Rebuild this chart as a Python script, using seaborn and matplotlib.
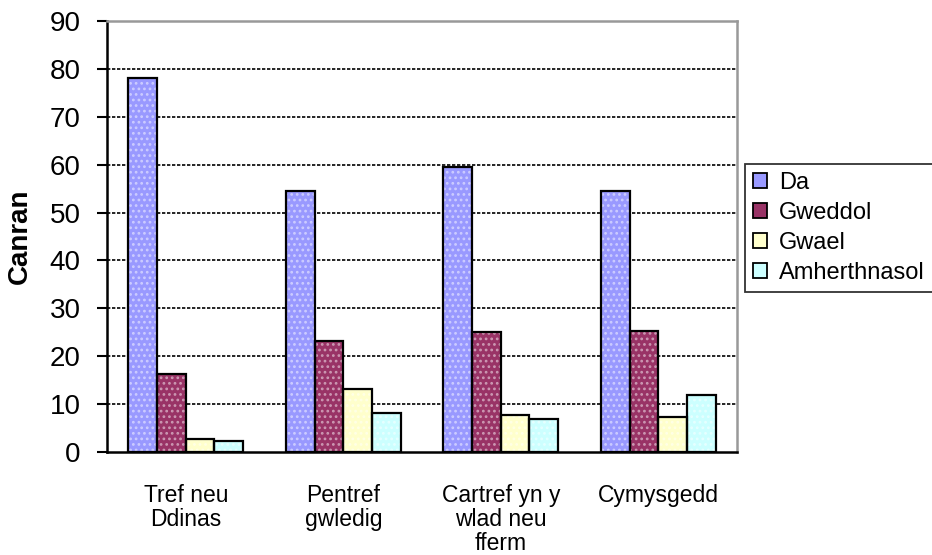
import matplotlib
matplotlib.use("Agg")
import matplotlib.pyplot as plt
import matplotlib.colors as mcolors
from matplotlib.patches import Rectangle
import seaborn as sns
import pandas as pd
import numpy as np

categories = ["Tref neu\nDdinas", "Pentref\ngwledig", "Cartref yn y\nwlad neu\nfferm", "Cymysgedd"]
series = ["Da", "Gweddol", "Gwael", "Amherthnasol"]
da = [78.0, 54.5, 59.5, 54.5]
gweddol = [16.2, 23.2, 25.0, 25.3]
gwael = [2.7, 13.2, 7.7, 7.3]
amherthnasol = [2.4, 8.2, 6.9, 12.0]
colors = ["#9999FF", "#993366", "#FFFFCC", "#CCFFFF"]
yticks = [0, 10, 20, 30, 40, 50, 60, 70, 80, 90]
ylabel = "Canran"

sns.set_style("white")
plt.rcParams["font.family"] = ["Liberation Sans", "DejaVu Sans"]
plt.rcParams["text.color"] = "black"
plt.rcParams["xtick.color"] = "black"
plt.rcParams["ytick.color"] = "black"
plt.rcParams["axes.labelcolor"] = "black"
plt.rcParams["hatch.linewidth"] = 1.2

rows = []
for s, vals in zip(series, [da, gweddol, gwael, amherthnasol]):
    for c, v in zip(categories, vals):
        rows.append({"cat": c, "series": s, "value": v})
df = pd.DataFrame(rows)

fig = plt.figure(figsize=(9.32, 5.55), dpi=100)
ax = fig.add_axes([107/932, 1 - 452/555, 630/932, 431/555])

sns.barplot(data=df, x="cat", y="value", hue="series", palette=colors,
            width=0.73, saturation=1, ax=ax, legend=False, zorder=3)

# dotted pattern + black outline
for p in list(ax.patches):
    fc = np.array(mcolors.to_rgb(p.get_facecolor()))
    tint = fc + (1 - fc) * 0.5
    p.set_hatch("...")
    p.set_edgecolor(tint)
    p.set_linewidth(0)
    ax.add_patch(Rectangle(p.get_xy(), p.get_width(), p.get_height(),
                           facecolor="none", edgecolor="black", linewidth=1.6, zorder=4))

ax.set_ylim(0, 90)
ax.set_xlim(-0.5, 3.5)
ax.set_yticks(yticks)
ax.set_yticklabels([str(t) for t in yticks], fontsize=20)
ax.set_xticks(range(len(categories)))
ax.set_xticklabels(categories, fontsize=16.5, linespacing=1.05)
ax.set_xticks([-0.5, 0.5, 1.5, 2.5, 3.5], minor=True)
ax.tick_params(axis="x", which="major", length=0, pad=23)
ax.tick_params(axis="x", which="minor", length=6, width=1.5, color="black", direction="out")
ax.tick_params(axis="y", length=7, width=1.5, color="black", direction="out", pad=12, left=True)
ax.set_xlabel("")
ax.set_ylabel(ylabel, fontsize=20, fontweight="bold", labelpad=12)

for yv in yticks[1:-1]:
    ax.axhline(yv, color="black", linestyle=(0, (2, 1)), linewidth=1.2, zorder=1)

for side in ["left", "bottom"]:
    ax.spines[side].set_color("black")
    ax.spines[side].set_linewidth(1.8)
for side in ["top", "right"]:
    ax.spines[side].set_color("#999999")
    ax.spines[side].set_linewidth(1.8)
    ax.spines[side].set_visible(True)

handles = [Rectangle((0, 0), 1, 1, facecolor=c, edgecolor="black", linewidth=1.3) for c in colors]
leg = fig.legend(handles, series, loc="upper left", bbox_to_anchor=(745/932, 1 - 164/555),
                 fontsize=17, frameon=True, fancybox=False, edgecolor="black",
                 handlelength=0.6, handleheight=0.6, handletextpad=0.5,
                 labelspacing=0.33, borderpad=0.35, borderaxespad=0)
leg.get_frame().set_linewidth(1.3)

fig.savefig("out.png", dpi=100)
